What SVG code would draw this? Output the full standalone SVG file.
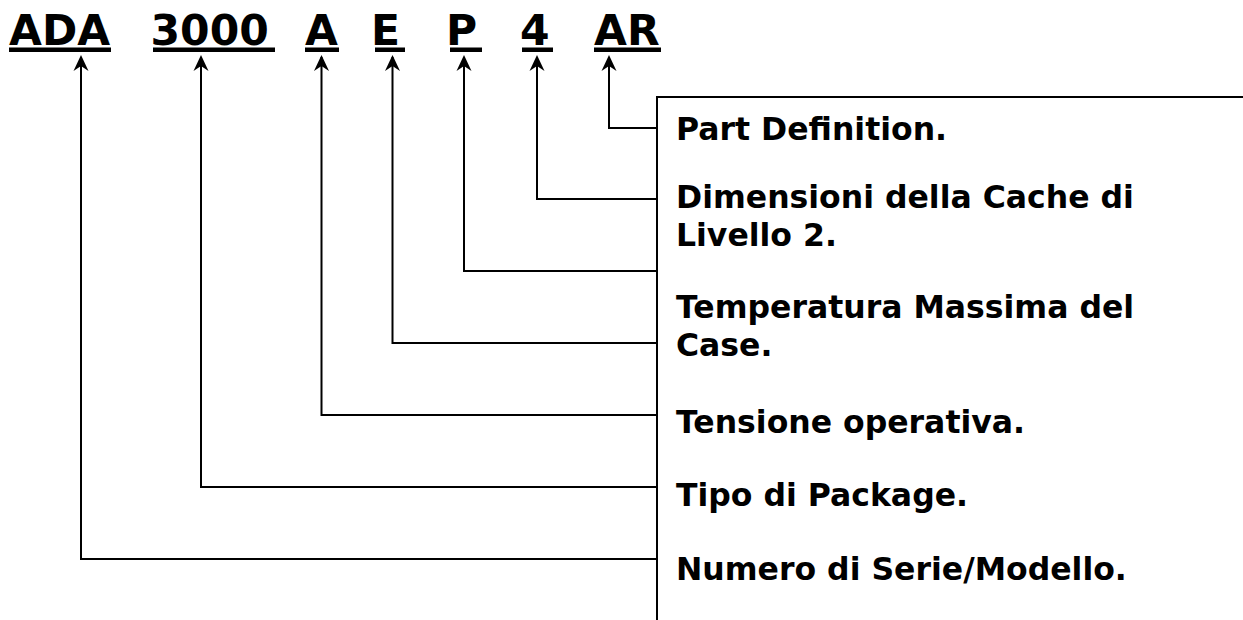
<svg xmlns="http://www.w3.org/2000/svg" width="1243" height="620" viewBox="0 0 1243 620">
<style>
  .code { font-family: "DejaVu Sans", "Liberation Sans", sans-serif; font-weight: bold; font-size: 42.5px; fill: #000; }
  .lbl { font-family: "DejaVu Sans", "Liberation Sans", sans-serif; font-weight: bold; font-size: 31.5px; fill: #000; }
  .ul { fill: #000; }
  .conn { fill: none; stroke: #000; stroke-width: 2; marker-end: url(#arr); }
  .frame { fill: none; stroke: #000; stroke-width: 2; }
</style>
<defs>
  <marker id="arr" markerUnits="userSpaceOnUse" viewBox="-17 -9 19 18" markerWidth="19" markerHeight="18" refX="-2" refY="0" orient="auto">
    <path d="M0,0 L-16,-7.5 L-11,0 L-16,7.5 Z" fill="#000"/>
  </marker>
</defs>
<rect width="1243" height="620" fill="#fff"/>

<g id="code-ADA"><text class="code" x="9" y="45">ADA</text><rect class="ul" x="9" y="47.5" width="102" height="4.5"/></g>
<g id="code-3000"><text class="code" x="150.5" y="45">3000</text><rect class="ul" x="153" y="47.5" width="122" height="4.5"/></g>
<g id="code-A"><text class="code" x="305" y="45">A</text><rect class="ul" x="305" y="47.5" width="34" height="4.5"/></g>
<g id="code-E"><text class="code" x="371" y="45">E</text><rect class="ul" x="375" y="47.5" width="30" height="4.5"/></g>
<g id="code-P"><text class="code" x="446" y="45">P</text><rect class="ul" x="450" y="47.5" width="32" height="4.5"/></g>
<g id="code-4"><text class="code" x="520" y="45">4</text><rect class="ul" x="522" y="47.5" width="31" height="4.5"/></g>
<g id="code-AR"><text class="code" x="594" y="45">AR</text><rect class="ul" x="594" y="47.5" width="67" height="4.5"/></g>

<g id="frame"><path class="frame" d="M657,620 V97 H1243"/></g>

<g id="connectors">
  <path class="conn" d="M657,128 H609 V57"/>
  <path class="conn" d="M657,199 H537 V57"/>
  <path class="conn" d="M657,271 H464 V57"/>
  <path class="conn" d="M657,343 H392.5 V57"/>
  <path class="conn" d="M657,415 H321.5 V57"/>
  <path class="conn" d="M657,487 H201 V57"/>
  <path class="conn" d="M657,559 H81 V57"/>
</g>

<g id="label-part"><text class="lbl" x="676" y="140">Part Definition.</text></g>
<g id="label-cache"><text class="lbl" x="676" y="208">Dimensioni della Cache di</text><text class="lbl" x="676" y="246">Livello 2.</text></g>
<g id="label-temp"><text class="lbl" x="676" y="318">Temperatura Massima del</text><text class="lbl" x="676" y="356">Case.</text></g>
<g id="label-tensione"><text class="lbl" x="676" y="433">Tensione operativa.</text></g>
<g id="label-package"><text class="lbl" x="676" y="506">Tipo di Package.</text></g>
<g id="label-numero"><text class="lbl" x="676" y="580">Numero di Serie/Modello.</text></g>
</svg>
